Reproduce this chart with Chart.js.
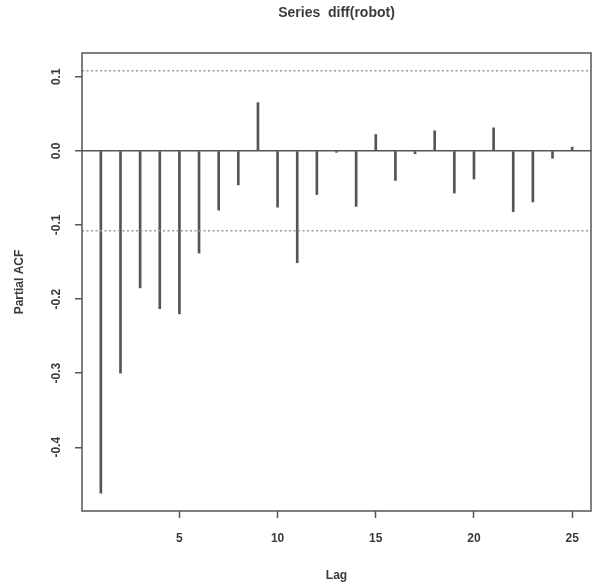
<!DOCTYPE html>
<html>
<head>
<meta charset="utf-8">
<title>Series diff(robot)</title>
<script src="https://cdn.jsdelivr.net/npm/chart.js@4/dist/chart.umd.min.js"></script>
<style>
  html, body { margin: 0; padding: 0; background: #fff; }
  #wrap { width: 592px; height: 586px; }
</style>
</head>
<body>
<div id="wrap"><canvas id="pacf"></canvas></div>
<script>
'use strict';

// partial autocorrelations of diff(robot), lags 1..25
var LAGS = [1, 2, 3, 4, 5, 6, 7, 8, 9, 10, 11, 12, 13, 14, 15, 16, 17, 18, 19, 20, 21, 22, 23, 24, 25];
var PACF = [-0.462, -0.300, -0.185, -0.213, -0.220, -0.138, -0.080, -0.046, 0.065, -0.076,
            -0.151, -0.059, -0.002, -0.075, 0.022, -0.040, -0.004, 0.027, -0.057, -0.038,
            0.031, -0.082, -0.069, -0.010, 0.005];
var CLIM = 0.108;           // approx. 95% band, 2/sqrt(n)
var X_RANGE = [0.04, 25.96];
var Y_RANGE = [-0.486, 0.132];

var INK = '#555';
var TEXT = '#3a3a3a';
var FONT = '"Liberation Sans", Arial, Helvetica, sans-serif';

var bars = LAGS.map(function (lag, i) { return { x: lag, y: PACF[i] }; });
var band = function (v) {
  return [{ x: X_RANGE[0], y: v }, { x: X_RANGE[1], y: v }];
};

// box, title, rotated y labels and axis titles, R style
var rDecor = {
  id: 'rDecor',
  afterDraw: function (chart) {
    var ctx = chart.ctx;
    var a = chart.chartArea;
    var ys = chart.scales.y;
    var cx = (a.left + a.right) / 2;
    var cy = (a.top + a.bottom) / 2;

    ctx.save();
    ctx.strokeStyle = INK;
    ctx.lineWidth = 1.5;
    ctx.strokeRect(a.left, a.top, a.right - a.left, a.bottom - a.top);

    ctx.fillStyle = TEXT;
    ctx.textAlign = 'center';
    ctx.textBaseline = 'middle';
    ctx.font = 'bold 14px ' + FONT;
    ctx.fillText('Series  diff(robot)', cx, 13);

    ctx.font = 'bold 12px ' + FONT;
    ctx.fillText('Lag', cx, 576);

    ys.ticks.forEach(function (t) {
      var py = ys.getPixelForValue(t.value);
      ctx.save();
      ctx.translate(57, py);
      ctx.rotate(-Math.PI / 2);
      ctx.fillText(t.value.toFixed(1).replace('-0.0', '0.0'), 0, 0);
      ctx.restore();
    });

    ctx.save();
    ctx.translate(20, cy);
    ctx.rotate(-Math.PI / 2);
    ctx.fillText('Partial ACF', 0, 0);
    ctx.restore();
    ctx.restore();
  }
};

new Chart(document.getElementById('pacf'), {
  type: 'bar',
  data: {
    datasets: [
      {
        label: 'pacf',
        data: bars,
        backgroundColor: INK,
        barThickness: 2,
        order: 2
      },
      {
        type: 'line',
        label: 'upper',
        data: band(CLIM),
        borderColor: '#9c9c9c',
        borderWidth: 1.5,
        borderDash: [2, 2.5],
        pointRadius: 0,
        order: 1
      },
      {
        type: 'line',
        label: 'lower',
        data: band(-CLIM),
        borderColor: '#9c9c9c',
        borderWidth: 1.5,
        borderDash: [2, 2.5],
        pointRadius: 0,
        order: 1
      }
    ]
  },
  options: {
    responsive: true,
    maintainAspectRatio: false,
    animation: false,
    layout: { padding: { top: 53, right: 1, left: 0, bottom: 0 } },
    plugins: {
      legend: { display: false },
      title: { display: false },
      tooltip: { enabled: false }
    },
    scales: {
      x: {
        type: 'linear',
        min: X_RANGE[0],
        max: X_RANGE[1],
        offset: false,
        border: { display: false },
        grid: { display: true, offset: false, drawOnChartArea: false, tickLength: 7, tickColor: INK, tickWidth: 1.5 },
        ticks: {
          stepSize: 5,
          includeBounds: false,
          padding: 13,
          color: TEXT,
          font: { family: FONT, size: 12, weight: 'bold' }
        },
        afterFit: function (s) { s.height = 75; }
      },
      y: {
        min: Y_RANGE[0],
        max: Y_RANGE[1],
        border: { display: false },
        grid: {
          drawOnChartArea: true,
          tickLength: 7,
          tickColor: INK,
          tickWidth: 1.5,
          lineWidth: 1.5,
          color: function (c) {
            return c.tick && Math.abs(c.tick.value) < 1e-9 ? INK : 'rgba(0,0,0,0)';
          }
        },
        ticks: {
          stepSize: 0.1,
          includeBounds: false,
          display: false
        },
        afterFit: function (s) { s.width = 82; }
      }
    }
  },
  plugins: [rDecor]
});
</script>
</body>
</html>
